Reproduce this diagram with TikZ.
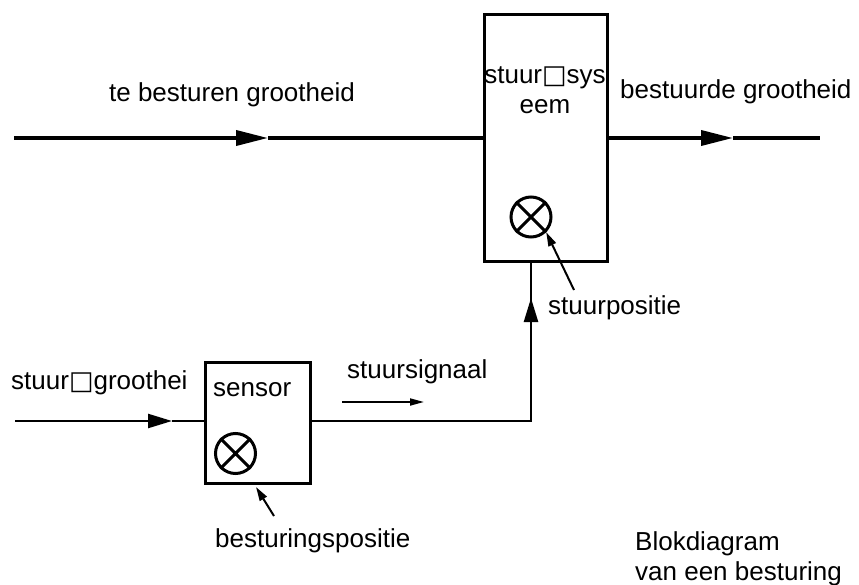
\documentclass[tikz,border=0pt]{standalone}
\usepackage{fontspec}
\setmainfont{Liberation Sans}
\newfontfamily\symfont{DejaVu Sans}
\usetikzlibrary{arrows.meta}
\tikzset{
  lbl/.style={inner sep=0pt, font=\fontsize{26}{30}\selectfont},
  blockbox/.style={draw, line width=3pt, rectangle, fill=white, inner sep=0pt},
  flow/.style={line width=3.6pt, -{Triangle[length=32pt,width=15pt]}},
  flowplain/.style={line width=3.6pt},
  sig/.style={line width=2.4pt},
  sigarrow/.style={line width=2.4pt, -{Triangle[length=24pt,width=14pt]}},
  pointer/.style={line width=2pt, -{Triangle[length=14pt,width=8pt]}},
  knob/.style={draw, circle, line width=3pt, minimum size=40pt, inner sep=0pt},
}
\newcommand{\bx}{{\symfont\char"25A1}}
\begin{document}
\begin{tikzpicture}[x=1pt,y=-1pt]
\useasboundingbox (0,0) rectangle (859,585);
% blocks
\node[blockbox, minimum width=123pt, minimum height=247pt] (sys) at (545.5,138.5) {};
\node[blockbox, minimum width=105pt, minimum height=121pt] (sen) at (257.5,422.5) {};
% knobs
\node[knob] (k1) at (531,217) {};
\draw[line width=3pt] (k1.north west) -- (k1.south east) (k1.north east) -- (k1.south west);
\node[knob] (k2) at (235.5,453.5) {};
\draw[line width=3pt] (k2.north west) -- (k2.south east) (k2.north east) -- (k2.south west);
% main line
\coordinate (in1) at (14,138);
\coordinate (m1) at (268,138);
\draw[flow] (in1) -- (m1);
\draw[flowplain] (m1) -- (sys.west |- in1);
\coordinate (o1) at (sys.east |- in1);
\coordinate (m2) at (733,138);
\coordinate (out1) at (820,138);
\draw[flow] (o1) -- (m2);
\draw[flowplain] (m2) -- (out1);
% sensor input
\coordinate (in2) at (15,421);
\coordinate (m3) at (172,421);
\draw[sigarrow] (in2) -- (m3);
\draw[sig] (m3) -- (sen.west |- in2);
% sensor output to system
\coordinate (cr) at (531,421);
\coordinate (m4) at (531,298);
\draw[sig] (sen.east |- cr) -- (cr) -- (m4);
\draw[sigarrow] (cr) -- (m4);
\draw[sig] (m4) -- (sys.south -| m4);
% small signal arrow
\coordinate (sa1) at (342,402);
\coordinate (sa2) at (424,402);
\draw[line width=1.8pt, -{Triangle[length=14pt,width=7pt]}] (sa1) -- (sa2);
% pointers
\coordinate (p1) at (574,290);
\draw[pointer] (p1) -- (k1.south east);
\coordinate (p2) at (274,516);
\draw[pointer] (p2) -- (256,487);
% labels
\node[lbl] (t1) at (232,95) {te besturen grootheid};
\node[lbl, align=center] (t2) at (545,90) {stuur\bx sys\\eem};
\node[lbl, anchor=west] (t3) at (620,92) {bestuurde grootheid};
\node[lbl, anchor=west] (t4) at (548,308) {stuurpositie};
\node[lbl, anchor=west] (t5) at (11,383) {stuur\bx groothei};
\node[lbl, anchor=west] (t6) at (213,390) {sensor};
\node[lbl, anchor=west] (t7) at (347,372) {stuursignaal};
\node[lbl, anchor=west] (t8) at (215,541) {besturingspositie};
\node[lbl, anchor=west, align=left] (t9) at (635,559) {Blokdiagram\\van een besturing};
\end{tikzpicture}
\end{document}
